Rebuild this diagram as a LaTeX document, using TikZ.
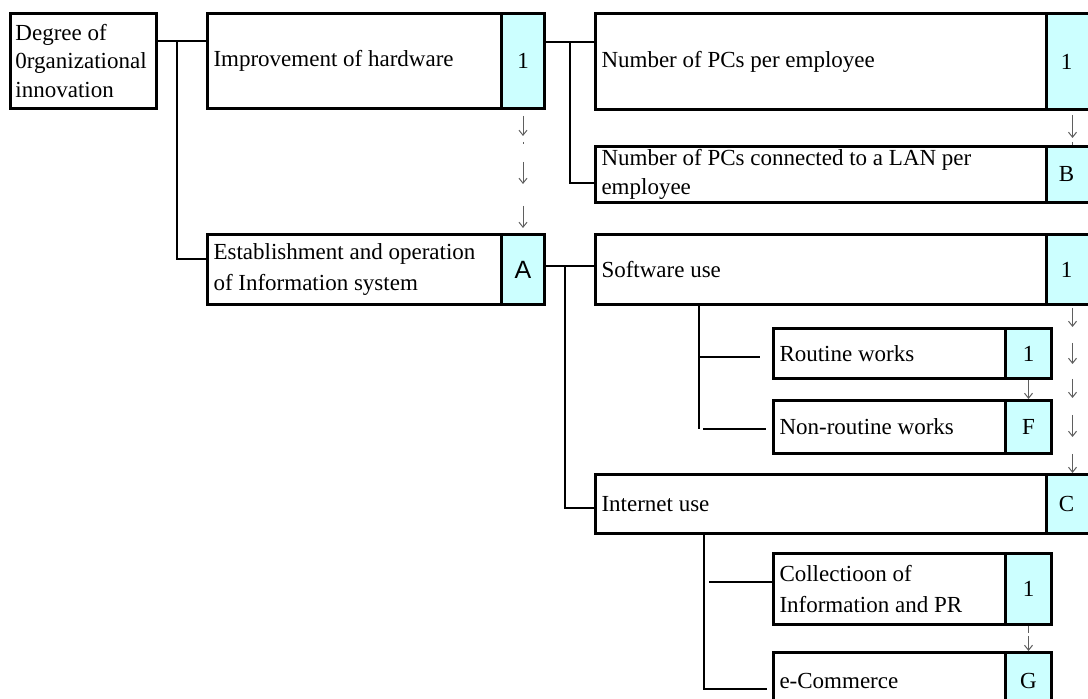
\documentclass[tikz,border=0pt]{standalone}
\usepackage{fontspec}
\setmainfont{Liberation Serif}
\newfontfamily\cellsans{Liberation Sans}
\usetikzlibrary{arrows.meta}
\definecolor{cellcyan}{RGB}{204,255,255}
\definecolor{arrowgrey}{RGB}{95,95,95}

\begin{document}
\begin{tikzpicture}[x=0.5pt,y=-0.5pt,
  itembox/.style={draw, line width=1.5pt, anchor=north west, inner xsep=3pt, inner ysep=0pt,
    align=flush left, font=\fontsize{11.5}{15.8}\selectfont},
  scorecell/.style={draw, line width=1.5pt, fill=cellcyan, anchor=north west, inner sep=0pt,
    font=\fontsize{11.5}{15.8}\selectfont},
  link/.style={line width=0.8pt},
  flow/.style={draw=arrowgrey, line width=0.5pt, -{Straight Barb[length=2.5pt,width=4pt]}}]
\useasboundingbox (0,0) rectangle (1088,699);
\fill[white] (0,0) rectangle (1088,699);
\clip (0,0) rectangle (1088,699);

% level 1 and 2
\draw (9,12)    node (deg)  [itembox, minimum width=73pt, text width=68pt, minimum height=47.5pt, inner xsep=2.5pt, font=\fontsize{11.5}{14.2}\selectfont] {Degree of\\0rganizational\\innovation};
\draw (206,12)  node (hw)   [itembox, minimum width=147pt, text width=141pt, minimum height=47.5pt] {Improvement of hardware};
\draw (500,12)  node (hwc)  [scorecell, minimum width=21.5pt, minimum height=47.5pt] {1};
\draw (206,233) node (est)  [itembox, minimum width=147pt, text width=141pt, minimum height=35pt] {Establishment and operation\\of Information system};
\draw (500,233) node (estc) [scorecell, minimum width=21.5pt, minimum height=35pt, font=\cellsans\fontsize{12.5}{14}\selectfont] {A};

% hardware items
\draw (594,12)   node (pcs)  [itembox, minimum width=225.5pt, text width=219.5pt, minimum height=48pt] {Number of PCs per employee};
\draw (1045,12)  node (pcsc) [scorecell, minimum width=26pt, minimum height=48pt] {\hspace*{-6pt}1};
\draw (594,145)  node (lan)  [itembox, minimum width=225.5pt, text width=219.5pt, minimum height=28pt, font=\fontsize{11.5}{14.2}\selectfont] {Number of PCs connected to a LAN per\\employee};
\draw (1045,145) node (lanc) [scorecell, minimum width=26pt, minimum height=28pt] {\hspace*{-6pt}B};

% information system items
\draw (594,233)  node (sw)   [itembox, minimum width=225.5pt, text width=219.5pt, minimum height=35pt] {Software use};
\draw (1045,233) node (swc)  [scorecell, minimum width=26pt, minimum height=35pt] {\hspace*{-6pt}1};
\draw (772,327)  node (rout) [itembox, minimum width=116pt, text width=110pt, minimum height=25pt] {Routine works};
\draw (1004,327) node (routc) [scorecell, minimum width=23pt, minimum height=25pt] {1};
\draw (772,399)  node (nonr) [itembox, minimum width=116pt, text width=110pt, minimum height=26.5pt] {Non-routine works};
\draw (1004,399) node (nonrc) [scorecell, minimum width=23pt, minimum height=26.5pt] {F};

\draw (594,473)  node (inet) [itembox, minimum width=225.5pt, text width=219.5pt, minimum height=29.5pt] {Internet use};
\draw (1045,473) node (inetc) [scorecell, minimum width=26pt, minimum height=29.5pt] {\hspace*{-6pt}C};
\draw (772,552)  node (coll) [itembox, minimum width=116pt, text width=110pt, minimum height=35.5pt] {Collectioon of\\Information and PR};
\draw (1004,552) node (collc) [scorecell, minimum width=23pt, minimum height=35.5pt] {1};
\draw (772,651)  node (ecom) [itembox, minimum width=116pt, text width=110pt, minimum height=31pt] {\raisebox{3pt}{e-Commerce}};
\draw (1004,651) node (ecomc) [scorecell, minimum width=23pt, minimum height=31pt] {\raisebox{3pt}{G}};

% tree lines
\coordinate (j1) at (177,41);
\draw[link] (deg.east |- j1) -- (hw.west |- j1);
\draw[link] (j1) |- (est.west |- 0,259);

\coordinate (j2) at (570,42);
\draw[link] (hwc.east |- j2) -- (pcs.west |- j2);
\draw[link] (j2) |- (lan.west |- 0,183);

\coordinate (j3) at (565,266);
\draw[link] (estc.east |- j3) -- (sw.west |- j3);
\draw[link] (j3) |- (inet.west |- 0,508);

\coordinate (j4) at (699,357);
\coordinate (j5) at (699,429);
\coordinate (r1) at (760,357);
\coordinate (r2) at (766,429);
\draw[link] (sw.south -| j4) -- (j5);
\draw[link] (j4) -- (r1);
\draw[link] ([xshift=2pt]j5) -- (r2);

\coordinate (j6) at (704,582);
\coordinate (j7) at (704,689);
\coordinate (r3) at (767,689);
\draw[link] (inet.south -| j6) -- (j7) -- (r3);
\draw[link] ([xshift=2.5pt]j6) -- (coll.west |- j6);

% order arrows
\draw[flow] (hwc.south) ++(0,6) -- ++(0,20);
\draw[arrowgrey, line width=0.5pt] (hwc.south) ++(0,32) -- ++(0,2);
\draw[flow] (hwc.south) ++(0,52) -- ++(0,22);
\draw[flow] (estc.north) ++(0,-27) -- ++(0,22);

\draw[flow] (pcsc.south) ++(0,4) -- ++(0,23);
\draw[arrowgrey, line width=0.5pt] (pcsc.south) ++(0,31) -- ++(0,3);

\draw[flow] (swc.south) ++(0,2) -- ++(0,19);
\draw[flow] (swc.south) ++(0,37) -- ++(0,21);
\draw[flow] (swc.south) ++(0,73) -- ++(0,19);
\draw[flow] (swc.south) ++(0,109) -- ++(0,22);
\draw[flow] (swc.south) ++(0,148) -- ++(0,19);

\draw[flow] (routc.south) -- (nonrc.north);
\draw[flow, dash pattern=on 3.5pt off 1.5pt on 10pt] (collc.south) -- (ecomc.north);
\end{tikzpicture}
\end{document}
